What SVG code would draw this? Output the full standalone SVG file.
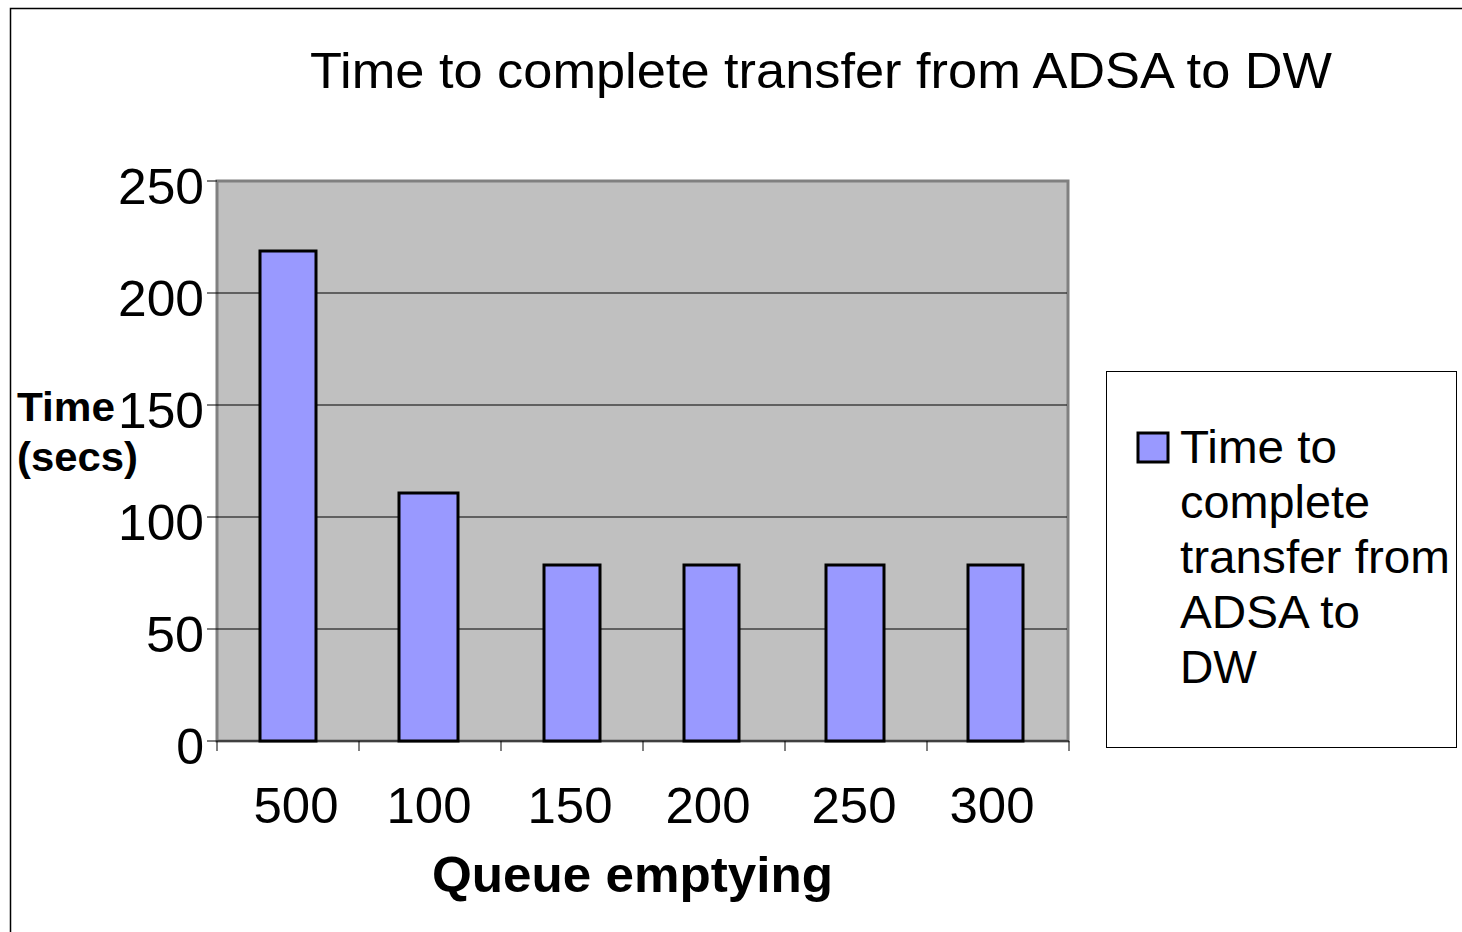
<svg xmlns="http://www.w3.org/2000/svg" width="1462" height="932" viewBox="0 0 1462 932">
<style>
text{font-family:"Liberation Sans",Arial,sans-serif;fill:#000}
.yl{font-size:50px;text-anchor:end}
.xl{font-size:50px;text-anchor:middle}
.lg{font-size:47px}
.bar{fill:#9999FF;stroke:#000;stroke-width:3}
.grid{stroke:#000;stroke-width:1}
.tick{stroke:#000;stroke-width:1}
</style>
<rect width="1462" height="932" fill="#fff"/>
<path d="M10.5,932 V8.5 H1462" fill="none" stroke="#000" stroke-width="1.5"/>
<text x="310" y="88" font-size="50" textLength="1022" lengthAdjust="spacingAndGlyphs">Time to complete transfer from ADSA to DW</text>
<g id="plot">
<rect x="217" y="181" width="851" height="560" fill="#C0C0C0" stroke="#808080" stroke-width="3"/>
<g class="grid">
<line x1="217" y1="293" x2="1067" y2="293"/>
<line x1="217" y1="405" x2="1067" y2="405"/>
<line x1="217" y1="517" x2="1067" y2="517"/>
<line x1="217" y1="629" x2="1067" y2="629"/>
</g>
</g>
<g id="axes" class="tick">
<line x1="217" y1="741" x2="1069" y2="741"/>
<line x1="207" y1="181" x2="217" y2="181"/>
<line x1="207" y1="293" x2="217" y2="293"/>
<line x1="207" y1="405" x2="217" y2="405"/>
<line x1="207" y1="517" x2="217" y2="517"/>
<line x1="207" y1="629" x2="217" y2="629"/>
<line x1="207" y1="741" x2="217" y2="741"/>
<line x1="217" y1="741" x2="217" y2="751"/>
<line x1="359" y1="741" x2="359" y2="751"/>
<line x1="501" y1="741" x2="501" y2="751"/>
<line x1="643" y1="741" x2="643" y2="751"/>
<line x1="785" y1="741" x2="785" y2="751"/>
<line x1="927" y1="741" x2="927" y2="751"/>
<line x1="1069" y1="741" x2="1069" y2="751"/>
</g>
<g id="bars">
<rect class="bar" x="260" y="251" width="56" height="490"/>
<rect class="bar" x="399" y="493" width="59" height="248"/>
<rect class="bar" x="544" y="565" width="56" height="176"/>
<rect class="bar" x="684" y="565" width="55" height="176"/>
<rect class="bar" x="826" y="565" width="58" height="176"/>
<rect class="bar" x="968" y="565" width="55" height="176"/>
</g>
<g id="ylabels">
<text class="yl" x="204" y="204" textLength="86" lengthAdjust="spacingAndGlyphs">250</text>
<text class="yl" x="204" y="316" textLength="86" lengthAdjust="spacingAndGlyphs">200</text>
<text class="yl" x="204" y="428" textLength="86" lengthAdjust="spacingAndGlyphs">150</text>
<text class="yl" x="204" y="540" textLength="86" lengthAdjust="spacingAndGlyphs">100</text>
<text class="yl" x="204" y="652" textLength="58" lengthAdjust="spacingAndGlyphs">50</text>
<text class="yl" x="204" y="764">0</text>
</g>
<g id="xlabels">
<text class="xl" x="296" y="823" textLength="85" lengthAdjust="spacingAndGlyphs">500</text>
<text class="xl" x="429" y="823" textLength="85" lengthAdjust="spacingAndGlyphs">100</text>
<text class="xl" x="570" y="823" textLength="85" lengthAdjust="spacingAndGlyphs">150</text>
<text class="xl" x="708" y="823" textLength="85" lengthAdjust="spacingAndGlyphs">200</text>
<text class="xl" x="854" y="823" textLength="85" lengthAdjust="spacingAndGlyphs">250</text>
<text class="xl" x="992" y="823" textLength="85" lengthAdjust="spacingAndGlyphs">300</text>
</g>
<text x="432" y="892" font-size="50" font-weight="bold" textLength="401" lengthAdjust="spacingAndGlyphs">Queue emptying</text>
<text x="17" y="421" font-size="41" font-weight="bold" textLength="98" lengthAdjust="spacingAndGlyphs">Time</text>
<text x="17" y="471" font-size="41" font-weight="bold" textLength="121" lengthAdjust="spacingAndGlyphs">(secs)</text>
<g id="legend">
<rect x="1106.5" y="371.5" width="350" height="376" fill="#fff" stroke="#000" stroke-width="1"/>
<rect x="1138" y="433" width="30" height="29" fill="#9999FF" stroke="#000" stroke-width="3"/>
<text class="lg" x="1180" y="463" textLength="157" lengthAdjust="spacingAndGlyphs">Time to</text>
<text class="lg" x="1180" y="518" textLength="190" lengthAdjust="spacingAndGlyphs">complete</text>
<text class="lg" x="1180" y="573" textLength="270" lengthAdjust="spacingAndGlyphs">transfer from</text>
<text class="lg" x="1180" y="628" textLength="180" lengthAdjust="spacingAndGlyphs">ADSA to</text>
<text class="lg" x="1180" y="683" textLength="77" lengthAdjust="spacingAndGlyphs">DW</text>
</g>
</svg>
